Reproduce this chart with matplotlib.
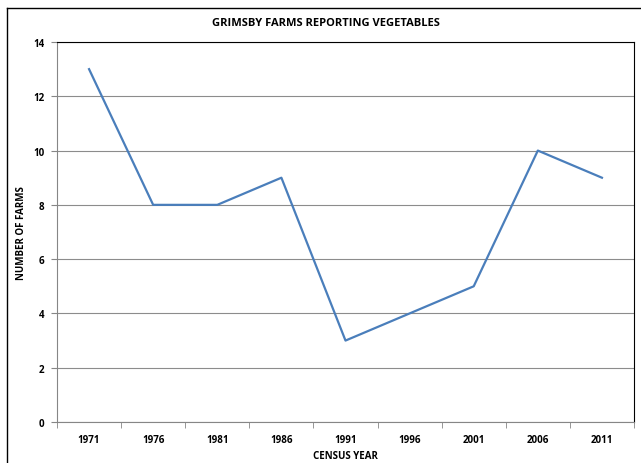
import numpy as np
import matplotlib.pyplot as plt
from matplotlib.lines import Line2D

years = ["1971", "1976", "1981", "1986", "1991", "1996", "2001", "2006", "2011"]
farms = [13, 8, 8, 9, 3, 4, 5, 10, 9]

plt.rcParams['font.family'] = ['Open Sans', 'DejaVu Sans']
plt.rcParams['font.weight'] = 'bold'

W, H = 641, 464
fig = plt.figure(figsize=(W/100, H/100), dpi=100)
ax = fig.add_axes([57/W, 1 - 423/H, (634-57)/W, (423-43)/H])

x = np.arange(len(years))
ax.plot(x, farms, color="#4a7ebb", lw=1.6)

ax.set_xlim(-0.5, len(years) - 0.5)
ax.set_ylim(0, 14)
ax.set_yticks(range(0, 15, 2))
ax.set_xticks(x)
ax.set_xticklabels(years, fontsize=7, fontweight='bold')
ax.set_xticks(np.arange(-0.5, len(years)), minor=True)
ax.tick_params(axis='x', which='major', length=0, pad=9)
ax.tick_params(axis='x', which='minor', length=4, color="#868686", direction='out')
ax.tick_params(axis='y', length=4, color="#868686", labelsize=7, pad=5)
for lab in ax.get_yticklabels():
    lab.set_fontweight('bold')
ax.grid(axis='y', color="#8c8c8c", lw=0.8)
ax.set_axisbelow(True)
for s in ['left', 'bottom']:
    ax.spines[s].set_color("#868686")
for s in ['top', 'right']:
    ax.spines[s].set_color("black")
    ax.spines[s].set_linewidth(0.8)

# chart title is centred on the whole chart area, not the plot
fig.text(326/W, 1 - 23/H, "GRIMSBY FARMS REPORTING VEGETABLES", fontsize=8,
         fontweight='bold', ha='center', va='center')
ax.set_xlabel("CENSUS YEAR", fontsize=7, fontweight='bold')
ax.xaxis.set_label_coords(0.5, -(451 - 423) / (423 - 43))
ax.set_ylabel("NUMBER OF FARMS", fontsize=7, fontweight='bold')
ax.yaxis.set_label_coords((27 - 57) / (634 - 57), 0.5)

# outer chart frame
fig.add_artist(Line2D([7/W, 7/W], [0, 1 - 9/H], color="black", lw=1))
fig.add_artist(Line2D([7/W, 1], [1 - 9/H, 1 - 9/H], color="black", lw=1))

fig.savefig("out.png", dpi=100)
